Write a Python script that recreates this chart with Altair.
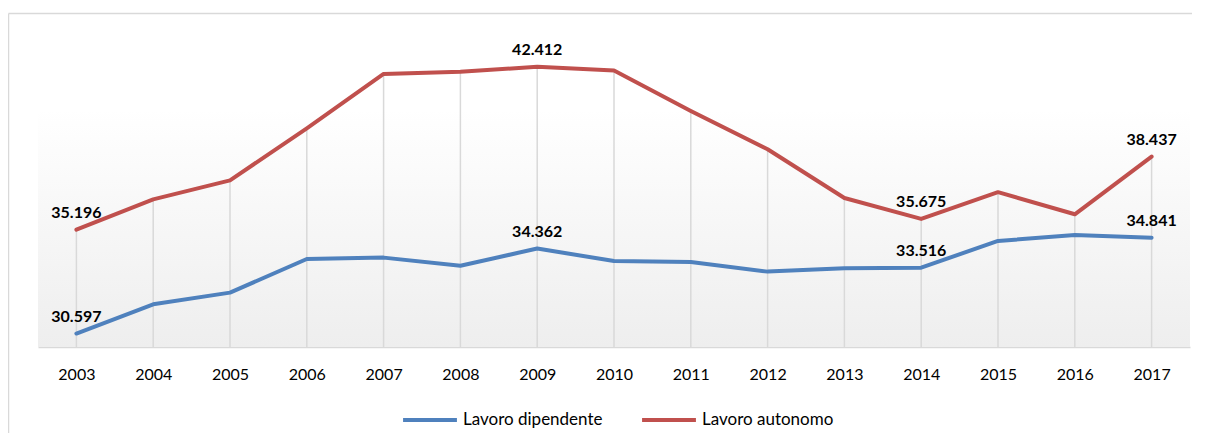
import altair as alt
import pandas as pd

years = [str(y) for y in range(2003, 2018)]
dipendente = [30.597, 31.89, 32.41, 33.90, 33.96, 33.60, 34.362, 33.81, 33.77, 33.34, 33.49, 33.516, 34.70, 34.96, 34.841]
autonomo = [35.196, 36.54, 37.38, 39.69, 42.10, 42.20, 42.412, 42.25, 40.46, 38.76, 36.60, 35.675, 36.86, 35.88, 38.437]
labelled_years = ["2003", "2009", "2014", "2017"]
series_names = ["Lavoro dipendente", "Lavoro autonomo"]
series_colors = ["#4f81bd", "#c0504d"]

rows = []
for name, vals in zip(series_names, [dipendente, autonomo]):
    for y, v in zip(years, vals):
        rows.append({"year": y, "serie": name, "value": v, "label": f"{v:.3f}"})
df = pd.DataFrame(rows)

W, H = 1152, 316
FONT = "Lato"

x_enc = alt.X(
    "year:O",
    sort=years,
    scale=alt.Scale(type="point", padding=0.5),
    axis=alt.Axis(
        title=None, labelAngle=0, ticks=False, grid=False,
        domainColor="#d9d9d9", domainWidth=1.5,
        labelFontSize=16, labelColor="#000000", labelPadding=19, labelFont=FONT,
    ),
)
y_scale = alt.Scale(domain=[30, 44], nice=False, zero=False)
y_enc = alt.Y("value:Q", scale=y_scale, axis=None)

bg = alt.Chart(alt.Data(values=[{}])).mark_rect(
    fill=alt.Gradient(
        gradient="linear", x1=0, x2=0, y1=0, y2=1,
        stops=[
            alt.GradientStop(color="#ffffff", offset=0),
            alt.GradientStop(color="#ffffff", offset=0.1),
            alt.GradientStop(color="#eeeeee", offset=1),
        ],
    )
).encode(x=alt.value(0), x2=alt.value(W), y=alt.value(52), y2=alt.value(H))

border_top = alt.Chart(alt.Data(values=[{}])).mark_rule(color="#d9d9d9", strokeWidth=1.5).encode(
    x=alt.value(-29.5), x2=alt.value(W + 30), y=alt.value(-17.5)
)
border_left = alt.Chart(alt.Data(values=[{}])).mark_rule(color="#d9d9d9", strokeWidth=1.5).encode(
    x=alt.value(-29.5), y=alt.value(-17.5), y2=alt.value(H + 120)
)

base = alt.Chart(df)

drops = base.transform_aggregate(
    top="max(value)", groupby=["year"]
).mark_rule(color="#d9d9d9", strokeWidth=1.5).encode(
    x=x_enc, y=alt.Y("top:Q", scale=y_scale, axis=None),
    y2=alt.datum(30),
)

lines = base.mark_line(strokeWidth=4, strokeCap="round", strokeJoin="round").encode(
    x=x_enc, y=y_enc,
    color=alt.Color(
        "serie:N",
        scale=alt.Scale(domain=series_names, range=series_colors),
        legend=alt.Legend(
            title=None, orient="none", legendX=363, legendY=360, direction="horizontal",
            symbolType="stroke", symbolStrokeWidth=4, symbolSize=2900,
            labelFontSize=17, labelColor="#000000", labelFont=FONT, labelOffset=4,
            columnPadding=31,
        ),
    ),
    detail="serie:N",
)

labels = base.transform_filter(
    alt.FieldOneOfPredicate(field="year", oneOf=labelled_years)
).mark_text(fontWeight="bold", fontSize=16, dy=-12, baseline="alphabetic", color="#000000", font=FONT).encode(
    x=x_enc, y=y_enc, text="label:N"
)

chart = alt.layer(bg, border_top, border_left, drops, lines, labels).properties(
    width=W, height=H,
    autosize=alt.AutoSizeParams(type="none"),
    padding={"left": 30, "top": 23, "right": 2, "bottom": 86},
).configure(font=FONT).configure_view(stroke=None)

chart.save("out.html", embed_options={"renderer": "svg", "actions": False})
